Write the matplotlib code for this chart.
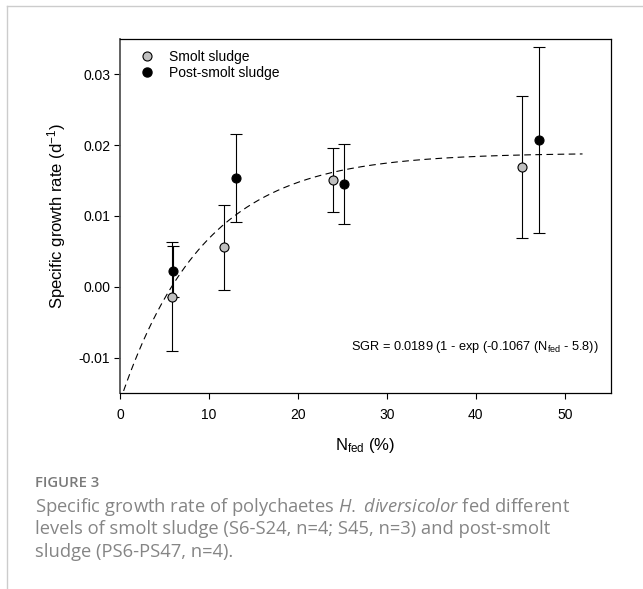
import matplotlib.pyplot as plt
import numpy as np
from matplotlib.lines import Line2D

plt.rcParams['font.family'] = ['Liberation Sans', 'DejaVu Sans']
plt.rcParams['mathtext.fontset'] = 'custom'
plt.rcParams['mathtext.rm'] = 'Liberation Sans'
plt.rcParams['mathtext.it'] = 'Open Sans:italic'

# smolt sludge (grey) and post-smolt sludge (black), mean +/- sd
smolt_n = [5.8, 11.7, 23.9, 45.2]
smolt_sgr = [-0.0014, 0.0056, 0.0151, 0.0169]
smolt_err = [0.0077, 0.0060, 0.0045, 0.0100]

post_n = [6.0, 13.0, 25.2, 47.1]
post_sgr = [0.0022, 0.0154, 0.0145, 0.0207]
post_err = [0.0036, 0.0062, 0.0056, 0.0131]

# fitted model shown on the chart
SGR_MAX = 0.0189
K = 0.1067
N0 = 5.8
fit_range = (0, 52)

fig = plt.figure(figsize=(6.43, 5.89), dpi=100)
ax = fig.add_axes([0.1866, 0.3328, 0.7636, 0.601])

n_fit = np.linspace(fit_range[0], fit_range[1], 300)
ax.plot(n_fit, SGR_MAX * (1 - np.exp(-K * (n_fit - N0))), color='black',
        linestyle=(0, (6, 4)), linewidth=0.8, zorder=1)

ax.errorbar(smolt_n, smolt_sgr, yerr=smolt_err, fmt='o', markersize=6.5,
            markerfacecolor='#c0c0c0', markeredgecolor='black', markeredgewidth=0.8,
            ecolor='black', elinewidth=0.8, capsize=4, capthick=0.8,
            label='Smolt sludge', zorder=3)
ax.errorbar(post_n, post_sgr, yerr=post_err, fmt='o', markersize=6.5,
            markerfacecolor='black', markeredgecolor='black', markeredgewidth=0.8,
            ecolor='black', elinewidth=0.8, capsize=4, capthick=0.8,
            label='Post-smolt sludge', zorder=3)

ax.set_xlim(0, 55.2)
ax.set_ylim(-0.015, 0.035)
ax.set_xticks([0, 10, 20, 30, 40, 50])
ax.set_yticks([-0.01, 0.0, 0.01, 0.02, 0.03])
ax.set_yticklabels(['-0.01', '0.00', '0.01', '0.02', '0.03'])
ax.tick_params(direction='out', length=4, width=0.8, labelsize=10, pad=3)
ax.tick_params(axis='x', pad=7)
for s in ax.spines.values():
    s.set_linewidth(0.9)
ax.spines['left'].set_color('#555555')
ax.spines['left'].set_linewidth(1.3)

ax.set_ylabel(r'Specific growth rate (d$^{-1}$)', fontsize=12, labelpad=8)
ax.set_xlabel(r'N$_{\mathrm{fed}}$ (%)', fontsize=12, labelpad=10)

handles = [Line2D([], [], marker='o', linestyle='none', markersize=6.5,
                  markerfacecolor='#c0c0c0', markeredgecolor='black', markeredgewidth=0.8),
           Line2D([], [], marker='o', linestyle='none', markersize=6.5,
                  markerfacecolor='black', markeredgecolor='black')]
ax.legend(handles, ['Smolt sludge', 'Post-smolt sludge'], loc='upper left',
          bbox_to_anchor=(0.026, 0.985), frameon=False, fontsize=10,
          handletextpad=1.0, labelspacing=0.15, borderaxespad=0, handlelength=1.2)

ax.text(0.975, 0.13, r'SGR = 0.0189 (1 - exp (-0.1067 (N$_{\mathrm{fed}}$ - 5.8))',
        transform=ax.transAxes, ha='right', va='center', fontsize=9.2)

# page frame lines
fig.add_artist(Line2D([7 / 643, 1], [1 - 6 / 589, 1 - 6 / 589], color='#cccccc', linewidth=1))
fig.add_artist(Line2D([7 / 643, 7 / 643], [0, 1 - 6 / 589], color='#cccccc', linewidth=1))

cap_color = '#858585'
fig.text(35 / 643, 1 - 483 / 589, 'FIGURE 3', fontsize=10.7, color='#7a7a7a',
         family=['Open Sans', 'DejaVu Sans'], weight='semibold', va='center')
cap_lines = [r'Specific growth rate of polychaetes $\mathit{H.\;diversicolor}$ fed different',
             'levels of smolt sludge (S6-S24, n=4; S45, n=3) and post-smolt',
             'sludge (PS6-PS47, n=4).']
for i, line in enumerate(cap_lines):
    fig.text(35 / 643, 1 - (507 + 22.5 * i) / 589, line, fontsize=13.2, color=cap_color,
             family=['Open Sans', 'DejaVu Sans'], va='center')

fig.savefig('out.png', dpi=100)
